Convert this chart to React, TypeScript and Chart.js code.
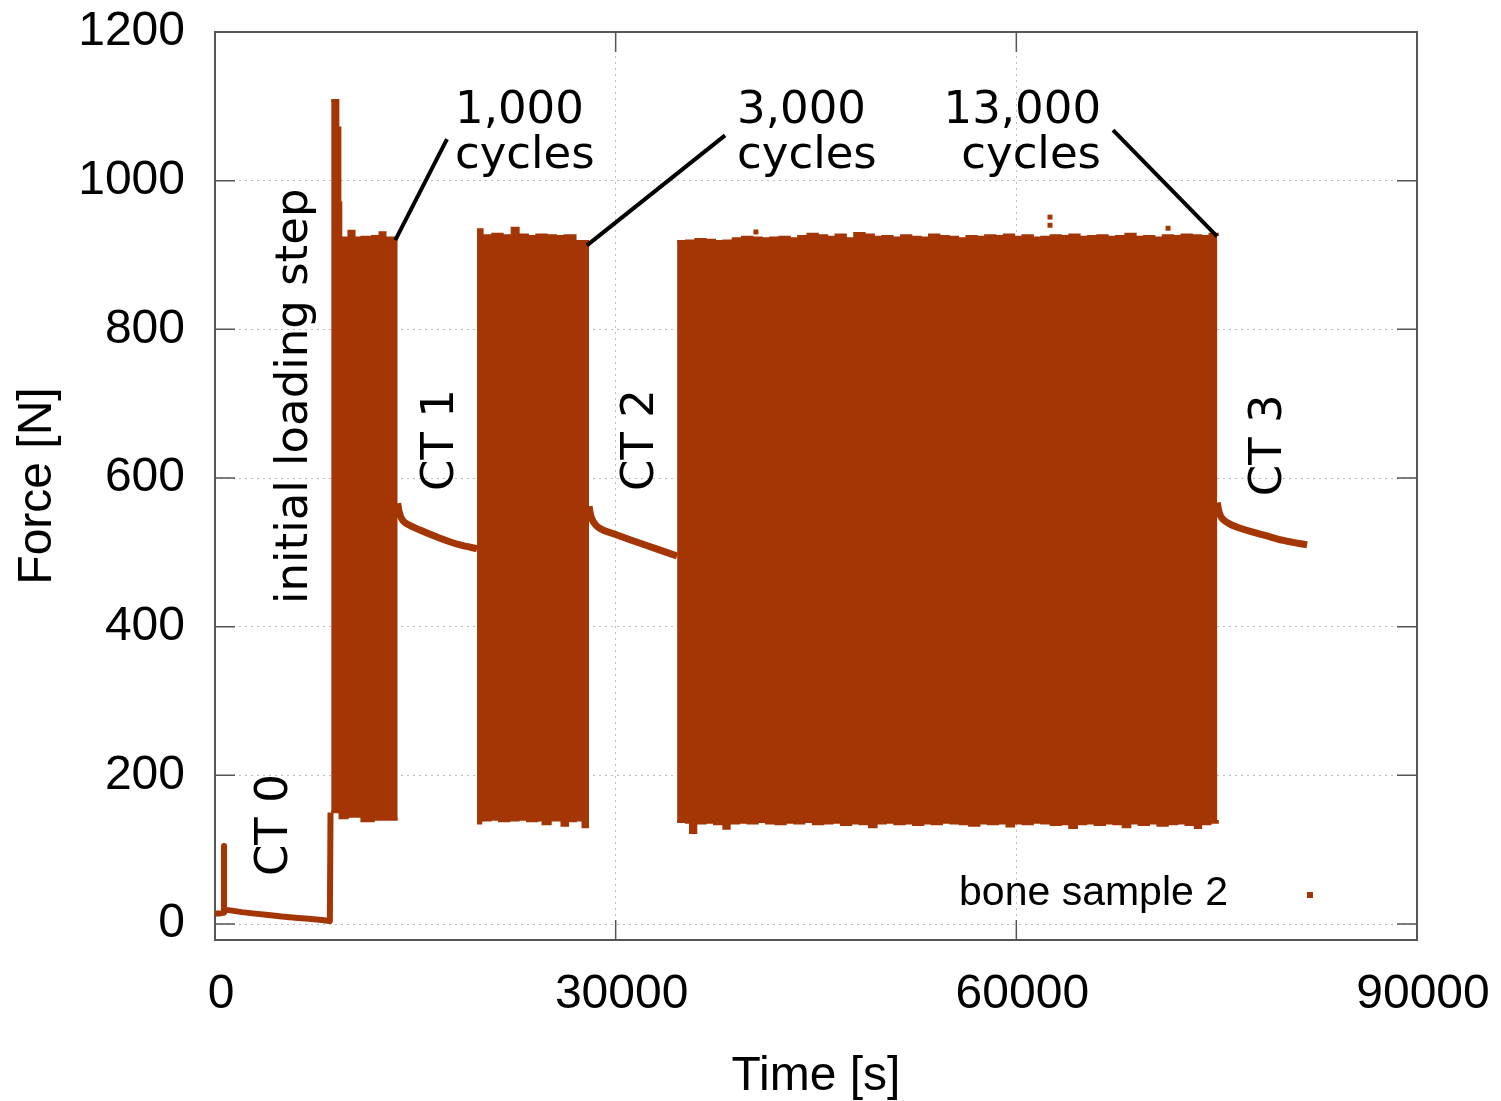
import React, { useEffect, useRef } from 'react';
import { Chart, registerables } from 'chart.js';

Chart.register(...registerables);

// ---------------- data ----------------
const SERIES_LABEL = 'bone sample 2';
const X_TICKS = [0, 30000, 60000, 90000];
const Y_TICKS = [0, 200, 400, 600, 800, 1000, 1200];

// CT 0 hold (with the short pre-load spike) and the ramp into cycling
const ct0Time = [0, 300, 600, 670, 674, 678, 900, 2000, 3000, 4000, 5000, 6000, 7000, 8000, 8600, 8650];
const ct0Force = [14, 14, 15, 18, 105, 20, 19, 16, 14, 12, 10, 8.5, 7, 5.5, 4, 150];

// relaxation during the CT scans
const ct1Time = [13680, 13760, 13880, 14100, 14500, 15350, 16850, 18350, 19620];
const ct1Force = [566, 557, 549, 542, 537, 530, 519, 510, 505];
const ct2Time = [28010, 28090, 28220, 28450, 28830, 30000, 31075, 33000, 34600];
const ct2Force = [562, 553, 545, 538, 532, 524, 517, 505, 495];
const ct3Time = [75050, 75130, 75260, 75500, 76000, 77000, 78770, 80000, 81770];
const ct3Force = [567, 558, 550, 544, 538, 531, 522, 516, 510];

// cyclic loading blocks: upper / lower envelopes of the force signal
const cyc1MaxTime = [8700, 9200, 9350, 9420, 10030, 10410, 11000, 11800, 12355, 12730, 13680];
const cyc1Max = [1108, 1071, 970, 923, 932, 923, 924, 925, 930, 923, 923];
const cyc1MinTime = [8700, 9360, 9900, 11000, 11850, 13680];
const cyc1Min = [151, 143, 145, 139, 141, 141];

const cyc2MaxTime = [19620, 20000, 20800, 21500, 22250, 22700, 23400, 24100, 24800, 25500, 26200, 26960, 28010];
const cyc2Max = [934, 926, 928, 926, 936, 927, 925, 927, 926, 925, 926, 918, 918];
const cyc2MinTime = [19620, 19900, 20600, 21300, 22000, 22700, 23400, 24100, 24560, 25100, 25980, 26400, 27000, 27555, 28010];
const cyc2Min = [136, 140, 141, 139, 140, 141, 139, 140, 135, 140, 133, 139, 140, 131, 131];

const cyc3MaxTime = [
  34600, 35300, 36000, 36700, 37400, 38100, 38800, 39500, 40200, 40900, 41600, 42300, 43000, 43700,
  44400, 45100, 45800, 46500, 47200, 47900, 48600, 49300, 50000, 50700, 51400, 52100, 52800, 53500,
  54200, 54900, 55600, 56300, 57000, 57700, 58400, 59100, 59800, 60500, 61200, 61900, 62600, 63300,
  64000, 64700, 65400, 66100, 66800, 67500, 68200, 68900, 69600, 70300, 71000, 71700, 72400, 73100,
  73800, 74500, 75050,
];
const cyc3Max = [
  918, 919, 921, 920, 918, 919, 922, 924, 923, 922, 923, 924, 922, 925,
  928, 926, 924, 927, 922, 929, 927, 924, 925, 923, 926, 924, 923, 927,
  925, 924, 922, 925, 924, 926, 925, 927, 924, 926, 923, 924, 926, 925,
  927, 924, 925, 926, 924, 925, 928, 924, 925, 923, 926, 925, 927, 926,
  925, 928, 926,
];
const cyc3MinTime = [
  34600, 35300, 35600, 36000, 36700, 37400, 38100, 38500, 39200, 39900, 40600, 41300, 42000, 42700,
  43400, 44100, 44800, 45500, 46200, 46900, 47600, 48300, 49000, 49500, 50200, 50900, 51600, 52300,
  53000, 53700, 54400, 55100, 55800, 56500, 57200, 57900, 58600, 59300, 59800, 60500, 61200, 61900,
  62600, 63300, 64000, 64500, 65200, 65900, 66600, 67300, 68000, 68500, 69200, 69900, 70600, 71300,
  72000, 72700, 73400, 73800, 74500, 75050,
];
const cyc3Min = [
  138, 137, 123, 136, 137, 135, 129, 136, 137, 136, 138, 136, 135, 137,
  136, 138, 135, 136, 137, 134, 136, 135, 131, 136, 137, 135, 136, 134,
  136, 135, 137, 136, 135, 133, 136, 135, 136, 132, 136, 135, 137, 136,
  134, 135, 130, 135, 136, 134, 136, 135, 131, 136, 134, 136, 133, 135,
  136, 134, 130, 135, 137, 140,
];

// isolated samples above the envelope
const outlierTime = [40500, 62520, 62520, 71360];
const outlierForce = [931, 951, 940, 936];

// annotation texts
const rotatedLabels = [
  { text: 'initial loading step', x: 5990, y: 710 },
  { text: 'CT 0', x: 4500, y: 133 },
  { text: 'CT 1', x: 16925, y: 651 },
  { text: 'CT 2', x: 31900, y: 651 },
  { text: 'CT 3', x: 78920, y: 644 },
];
const cycleLabels = [
  { lines: ['1,000', 'cycles'], x: 17970, y: 1077, align: 'left', from: [17370, 1056], to: [13500, 920] },
  { lines: ['3,000', 'cycles'], x: 39090, y: 1077, align: 'left', from: [38190, 1061], to: [27850, 913] },
  { lines: ['13,000', 'cycles'], x: 66340, y: 1077, align: 'right', from: [67240, 1068], to: [75030, 925] },
];

// ---------------- styling ----------------
const COLOR = '#a43504';
const FRAME = '#555555';
const SANS = '"Liberation Sans", Arial, sans-serif';
const ANNOT = '"DejaVu Sans", sans-serif';

const zip = (xs: number[], ys: number[]) => xs.map((x, i) => ({ x, y: ys[i] }));

const relaxDs = (xs: number[], ys: number[], smooth = true) => ({
  label: SERIES_LABEL,
  data: zip(xs, ys),
  borderColor: COLOR,
  backgroundColor: COLOR,
  borderWidth: smooth ? 7 : 6,
  pointRadius: 0,
  fill: false,
  cubicInterpolationMode: smooth ? 'monotone' : 'default',
  tension: smooth ? 0.4 : 0,
  borderJoinStyle: 'round',
});

const envDs = (xs: number[], ys: number[], fill: any) => ({
  label: SERIES_LABEL,
  data: zip(xs, ys),
  borderColor: COLOR,
  backgroundColor: COLOR,
  borderWidth: 3,
  pointRadius: 0,
  stepped: true,
  fill,
});

const noOverflow = (s: any) => {
  s.paddingTop = 0;
  s.paddingBottom = 0;
  s.paddingLeft = 0;
  s.paddingRight = 0;
};

const framePlugin = {
  id: 'framePlugin',
  beforeDatasetsDraw(chart: any) {
    const { ctx, chartArea: a, scales } = chart;
    const x = scales.x;
    const y = scales.y;
    const T = 20;
    ctx.save();
    ctx.strokeStyle = FRAME;
    ctx.lineWidth = 1.5;
    ctx.beginPath();
    for (const v of Y_TICKS) {
      const py = y.getPixelForValue(v);
      ctx.moveTo(a.left, py);
      ctx.lineTo(a.left + T, py);
      ctx.moveTo(a.right, py);
      ctx.lineTo(a.right - T, py);
    }
    for (const v of X_TICKS) {
      const px = x.getPixelForValue(v);
      ctx.moveTo(px, a.bottom);
      ctx.lineTo(px, a.bottom - T);
      ctx.moveTo(px, a.top);
      ctx.lineTo(px, a.top + T);
    }
    ctx.stroke();
    ctx.lineWidth = 2;
    ctx.strokeRect(a.left, a.top, a.right - a.left, a.bottom - a.top);
    ctx.restore();
  },
  afterDatasetsDraw(chart: any) {
    const { ctx, chartArea: a, scales } = chart;
    const x = scales.x;
    const y = scales.y;
    ctx.save();
    ctx.fillStyle = '#000';
    ctx.font = `45px ${ANNOT}`;
    ctx.textBaseline = 'middle';
    ctx.textAlign = 'center';
    for (const l of rotatedLabels) {
      ctx.save();
      ctx.translate(x.getPixelForValue(l.x), y.getPixelForValue(l.y));
      ctx.rotate(-Math.PI / 2);
      ctx.fillText(l.text, 0, 0);
      ctx.restore();
    }
    ctx.textBaseline = 'alphabetic';
    for (const c of cycleLabels) {
      ctx.textAlign = c.align as CanvasTextAlign;
      const px = x.getPixelForValue(c.x);
      const py = y.getPixelForValue(c.y);
      c.lines.forEach((t, i) => ctx.fillText(t, px, py + i * 45));
      ctx.strokeStyle = '#000';
      ctx.lineWidth = 4;
      ctx.beginPath();
      ctx.moveTo(x.getPixelForValue(c.from[0]), y.getPixelForValue(c.from[1]));
      ctx.lineTo(x.getPixelForValue(c.to[0]), y.getPixelForValue(c.to[1]));
      ctx.stroke();
    }
    // key
    ctx.font = `41px ${SANS}`;
    ctx.textAlign = 'right';
    ctx.textBaseline = 'middle';
    ctx.fillText(SERIES_LABEL, a.right - 189, a.bottom - 46);
    ctx.fillStyle = COLOR;
    ctx.fillRect(a.right - 110, a.bottom - 48, 6, 6);
    ctx.restore();
  },
};

export default function App() {
  const ref = useRef<HTMLCanvasElement>(null);
  useEffect(() => {
    if (!ref.current) return;
    Chart.defaults.font.family = SANS;
    const chart = new Chart(ref.current, {
      type: 'line',
      data: {
        datasets: [
          relaxDs(ct0Time, ct0Force, false),
          relaxDs(ct1Time, ct1Force),
          relaxDs(ct2Time, ct2Force),
          relaxDs(ct3Time, ct3Force),
          envDs(cyc1MaxTime, cyc1Max, '+1'),
          envDs(cyc1MinTime, cyc1Min, false),
          envDs(cyc2MaxTime, cyc2Max, '+1'),
          envDs(cyc2MinTime, cyc2Min, false),
          envDs(cyc3MaxTime, cyc3Max, '+1'),
          envDs(cyc3MinTime, cyc3Min, false),
          {
            label: SERIES_LABEL,
            data: zip(outlierTime, outlierForce),
            showLine: false,
            pointStyle: 'rect',
            pointRadius: 3.5,
            borderWidth: 0,
            backgroundColor: COLOR,
            borderColor: COLOR,
          },
        ] as any,
      },
      options: {
        animation: false,
        responsive: false,
        devicePixelRatio: 1,
        layout: { padding: { top: 32, right: 84, bottom: 0, left: 0 } },
        plugins: { legend: { display: false }, tooltip: { enabled: false } },
        scales: {
          x: {
            type: 'linear',
            min: 0,
            max: 90000,
            afterBuildTicks: (s: any) => { s.ticks = X_TICKS.map((v) => ({ value: v })); },
            afterFit: (s: any) => { s.height = 161; noOverflow(s); },
            grid: { color: '#bdbdbd', lineWidth: 1, drawTicks: false },
            border: { display: false, dash: [2, 4] },
            ticks: { color: '#000', font: { size: 48, lineHeight: 1.2 }, padding: 26, labelOffset: 6, maxRotation: 0, callback: (v: any) => String(v) },
            title: { display: true, text: 'Time [s]', color: '#000', font: { size: 48, lineHeight: 1 }, padding: { top: 0, bottom: 0 } },
          },
          y: {
            type: 'linear',
            min: -21.5,
            max: 1200,
            afterBuildTicks: (s: any) => { s.ticks = Y_TICKS.map((v) => ({ value: v })); },
            afterFit: (s: any) => { s.width = 215; noOverflow(s); },
            grid: { color: '#bdbdbd', lineWidth: 1, drawTicks: false },
            border: { display: false, dash: [2, 4] },
            ticks: { color: '#000', font: { size: 48 }, padding: 30, callback: (v: any) => String(v) },
            title: { display: true, text: 'Force [N]', color: '#000', font: { size: 48, lineHeight: 1 }, padding: { top: 14, bottom: 0 } },
          },
        },
      } as any,
      plugins: [framePlugin],
    });
    return () => chart.destroy();
  }, []);
  return (
    <div style={{ position: 'fixed', left: 0, top: 0, width: 1501, height: 1101, background: '#fff' }}>
      <canvas ref={ref} width={1501} height={1101} style={{ display: 'block', width: 1501, height: 1101 }} />
    </div>
  );
}
